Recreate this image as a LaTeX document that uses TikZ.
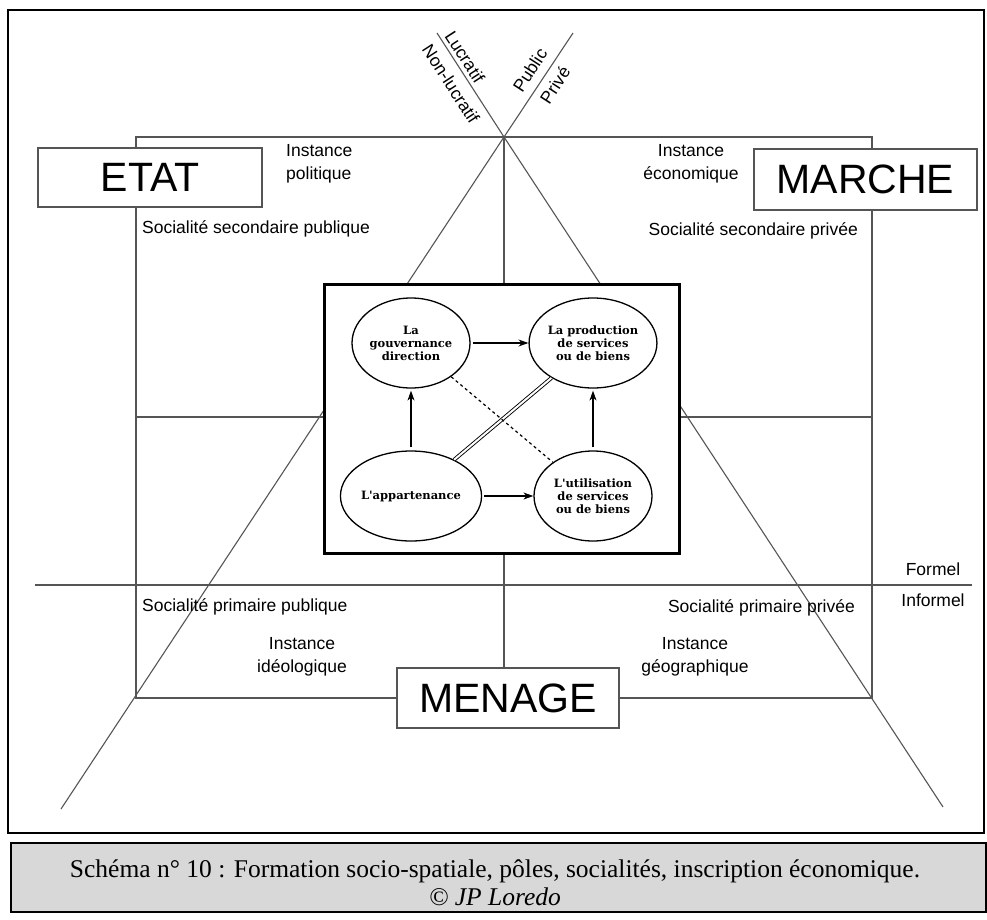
\documentclass[tikz,border=0pt]{standalone}
\usepackage{fontspec}
\setmainfont{Liberation Serif}
\newfontfamily\arialf{Liberation Sans}
\newfontfamily\bookf{DejaVu Serif}
\usetikzlibrary{shapes.geometric,arrows.meta}
\pgfdeclarelayer{bg}
\pgfsetlayers{bg,main}
\definecolor{linegray}{RGB}{85,85,85}
\definecolor{capgray}{RGB}{216,216,216}
\begin{document}
\begin{tikzpicture}[x=1pt,y=-1pt,
  lbl/.style={font=\arialf\fontsize{17.5}{23}\selectfont, inner sep=0pt, text=black},
  pole/.style={draw=linegray, line width=1.3pt, fill=white, font=\arialf\fontsize{41}{45}\selectfont, inner sep=0pt},
  bubble/.style={ellipse, draw, line width=1.3pt, fill=white, minimum width=118pt, minimum height=90pt, inner sep=0pt, align=center, font=\bookf\bfseries\fontsize{11.5}{13}\selectfont},
  struct/.style={draw=linegray, line width=1.4pt},
  diag/.style={draw=linegray, line width=1.1pt},
  arr/.style={-{Stealth[length=10pt,width=7pt]}, line width=1.1pt},
]
\useasboundingbox (0,0) rectangle (987,920);
\begin{pgfonlayer}{bg}
  \fill[white] (0,0) rectangle (987,920);
\end{pgfonlayer}
% outer frame and caption box
\draw[line width=2pt] (8,10) rectangle (984,833);
\draw[line width=2pt, fill=capgray] (11,843) rectangle (986,912);
\node[align=center, inner sep=0pt, font=\fontsize{25.5}{28}\selectfont] (captext) at (495,883)
  {Schéma n° 10 : Formation socio-spatiale, pôles, socialités, inscription économique.\\
   {\itshape © JP Loredo}};

% key points
\coordinate (apex) at (504,137);
\coordinate (ul) at (437,33);
\coordinate (ur) at (573,33);
\coordinate (ll) at (61,809);
\coordinate (lr) at (943,807);
\coordinate (formL) at (35,585);
\coordinate (formR) at (972,585);
\coordinate (midL) at (136,417);
\coordinate (midR) at (872,417);

% poles
\node[pole, minimum width=224pt, minimum height=59pt] (etat) at (150,177.5) {ETAT};
\node[pole, minimum width=223pt, minimum height=61pt] (marche) at (865.5,179.5) {MARCHE};
\node[pole, minimum width=222pt, minimum height=60pt] (menage) at (508,698) {MENAGE};

% central box
\node[draw, line width=3pt, fill=white, minimum width=355pt, minimum height=269pt, inner sep=0pt] (core) at (502,418.5) {};

\begin{pgfonlayer}{bg}
  \draw[struct] (136,137) rectangle (872,698);
  \draw[struct] (apex) -- (apex |- menage.north);
  \draw[struct] (midL) -- (midR);
  \draw[diag] (ul) -- (apex) -- (lr);
  \draw[diag] (ur) -- (apex) -- (ll);
  \draw[struct] (formL) -- (formR);
\end{pgfonlayer}

% bubbles
\node[bubble] (gouv) at (411,343) {La\\gouvernance\\direction};
\node[bubble] (prod) at (593,343) {La production\\de services\\ou de biens};
\node[bubble] (app) at (411,496) {L\textquotesingle appartenance};
\node[bubble] (util) at (593,496) {L\textquotesingle utilisation\\de services\\ou de biens};

\draw[arr, shorten <=2pt] (gouv) -- (prod);
\draw[arr, shorten <=2pt] (app) -- (util);
\draw[arr, shorten <=3pt, shorten >=2pt] (app) -- (gouv);
\draw[arr, shorten <=3pt, shorten >=2pt] (util) -- (prod);
\draw[line width=0.9pt, double, double distance=2pt] (app) -- (prod);
\draw[line width=1.2pt, dash pattern=on 3pt off 3pt] (gouv) -- (util);

% labels
\node[lbl, align=left, anchor=west] (ipol) at (286,163.5) {Instance\\politique};
\node[lbl, align=center] (ieco) at (691,163.5) {Instance\\économique};
\node[lbl, anchor=west] (ssp) at (142,229) {Socialité secondaire publique};
\node[lbl, anchor=east] (ssv) at (858,231) {Socialité secondaire privée};
\node[lbl, anchor=west] (spp) at (142,607) {Socialité primaire publique};
\node[lbl, anchor=east] (spv) at (855,608) {Socialité primaire privée};
\node[lbl, align=center] (iideo) at (302,657) {Instance\\idéologique};
\node[lbl, align=center] (igeo) at (695,657) {Instance\\géographique};
\node[lbl] (formel) at (933,569) {Formel};
\node[lbl] (informel) at (933,600) {Informel};
\node[lbl, rotate=-57] (lucr) at (465,57) {Lucratif};
\node[lbl, rotate=-57] (nlucr) at (451,84) {Non-lucratif};
\node[lbl, rotate=57] (pub) at (530,70) {Public};
\node[lbl, rotate=57] (priv) at (555,85) {Privé};
\end{tikzpicture}
\end{document}
